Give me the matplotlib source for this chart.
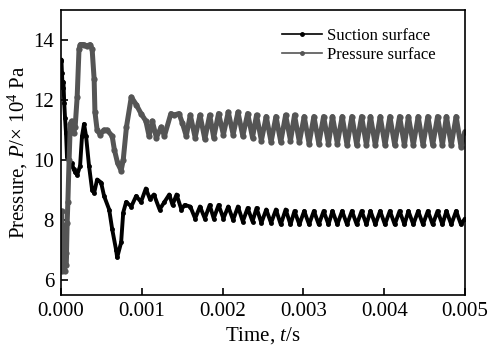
import matplotlib
matplotlib.use("Agg")
import matplotlib.pyplot as plt
from matplotlib.lines import Line2D
import numpy as np

plt.rcParams['font.family'] = ['Liberation Serif', 'DejaVu Serif']
plt.rcParams['mathtext.fontset'] = 'custom'
plt.rcParams['mathtext.rm'] = 'Liberation Serif'
plt.rcParams['mathtext.it'] = 'Liberation Serif:italic'

# start-up part of each curve, time in ms, pressure in 1e4 Pa
t_suction_start = [0.00, 0.005, 0.012, 0.02, 0.03, 0.04, 0.05, 0.062, 0.074, 0.09,
                   0.11, 0.136, 0.155, 0.174, 0.20, 0.236, 0.26, 0.285, 0.31, 0.347,
                   0.385, 0.41, 0.447, 0.496, 0.533, 0.596, 0.633, 0.682, 0.695, 0.744,
                   0.77, 0.806, 0.87, 0.93, 0.99, 1.05, 1.10, 1.15, 1.22, 1.28,
                   1.34, 1.38, 1.43, 1.49, 1.53]
p_suction_start = [13.30, 13.35, 12.9, 12.4, 12.6, 11.9, 11.4, 10.9, 10.1, 10.3,
                   9.8, 9.9, 9.7, 9.6, 9.5, 9.8, 10.8, 11.2, 10.8, 9.8,
                   9.0, 8.9, 9.35, 9.25, 8.8, 8.35, 7.7, 7.0, 6.75, 7.25,
                   8.25, 8.6, 8.45, 8.8, 8.6, 9.05, 8.7, 8.85, 8.35, 8.6,
                   8.85, 8.5, 8.85, 8.35, 8.5]

t_pressure_start = [0.00, 0.008, 0.015, 0.022, 0.03, 0.038, 0.045, 0.052, 0.06, 0.068,
                    0.076, 0.085, 0.10, 0.115, 0.13, 0.155, 0.175, 0.20, 0.223, 0.24,
                    0.28, 0.32, 0.36, 0.385, 0.41, 0.42, 0.447, 0.484, 0.53, 0.57,
                    0.633, 0.66, 0.70, 0.744, 0.77, 0.81, 0.87, 0.93, 0.99, 1.05,
                    1.09, 1.13, 1.18, 1.24, 1.28, 1.36, 1.40, 1.46, 1.50, 1.55]
p_pressure_start = [6.6, 8.3, 6.3, 7.6, 6.4, 7.2, 6.3, 7.8, 6.5, 6.9,
                    7.9, 8.6, 10.0, 11.2, 11.3, 10.9, 11.1, 12.1, 13.7, 13.85,
                    13.85, 13.8, 13.85, 13.7, 12.7, 11.6, 11.0, 10.85, 11.0, 11.0,
                    10.8, 10.35, 9.9, 9.65, 10.0, 11.1, 12.1, 11.85, 11.55, 11.3,
                    10.8, 11.3, 10.75, 11.1, 10.8, 11.55, 11.5, 11.55, 11.25, 10.8]

# periodic part: alternating crests and troughs
t_periodic = [1.60, 1.66, 1.72, 1.78, 1.84, 1.89, 1.95, 2.01, 2.07, 2.13,
              2.19, 2.25, 2.31, 2.37, 2.42, 2.48, 2.54, 2.60, 2.66, 2.72,
              2.78, 2.84, 2.89, 2.95, 3.01, 3.07, 3.13, 3.19, 3.25, 3.31,
              3.36, 3.42, 3.48, 3.54, 3.60, 3.66, 3.72, 3.78, 3.83, 3.89,
              3.95, 4.01, 4.07, 4.13, 4.19, 4.25, 4.30, 4.36, 4.42, 4.48,
              4.54, 4.60, 4.66, 4.72, 4.77, 4.83, 4.89, 4.95, 5.00]
p_suction_periodic = [8.45, 8.05, 8.45, 8.05, 8.50, 8.05, 8.50, 8.05, 8.45, 8.00,
                      8.45, 7.95, 8.40, 7.95, 8.40, 7.90, 8.35, 7.90, 8.35, 7.85,
                      8.35, 7.85, 8.30, 7.85, 8.30, 7.85, 8.30, 7.85, 8.30, 7.85,
                      8.30, 7.85, 8.30, 7.85, 8.30, 7.85, 8.30, 7.85, 8.30, 7.85,
                      8.30, 7.85, 8.30, 7.85, 8.30, 7.85, 8.30, 7.85, 8.30, 7.85,
                      8.30, 7.85, 8.30, 7.85, 8.30, 7.85, 8.30, 7.85, 8.05]
p_pressure_periodic = [11.50, 10.75, 11.50, 10.70, 11.50, 10.75, 11.55, 10.85, 11.60, 10.85,
                       11.60, 10.80, 11.55, 10.75, 11.50, 10.65, 11.45, 10.60, 11.45, 10.60,
                       11.50, 10.65, 11.50, 10.60, 11.45, 10.55, 11.45, 10.55, 11.45, 10.55,
                       11.45, 10.55, 11.45, 10.50, 11.45, 10.50, 11.45, 10.50, 11.45, 10.50,
                       11.45, 10.50, 11.45, 10.50, 11.45, 10.50, 11.45, 10.50, 11.45, 10.50,
                       11.45, 10.50, 11.45, 10.50, 11.45, 10.50, 11.45, 10.45, 10.95]

t_suc = np.array(t_suction_start + t_periodic) / 1000
p_suc = np.array(p_suction_start + p_suction_periodic)
t_pre = np.array(t_pressure_start + t_periodic) / 1000
p_pre = np.array(p_pressure_start + p_pressure_periodic)

black = '#000000'
grey = '#555555'

fig = plt.figure(figsize=(4.9, 3.58), dpi=100)
ax = fig.add_axes([0.1245, 0.176, 0.8245, 0.796])

ax.plot(t_suc, p_suc, color=black, lw=2.8, marker='o', ms=3.5, mew=0,
        solid_joinstyle='round', solid_capstyle='round')
ax.plot(t_pre, p_pre, color=grey, lw=3.6, marker='o', ms=4.5, mew=0,
        solid_joinstyle='round', solid_capstyle='round')

ax.set_xlim(0, 0.005)
ax.set_ylim(5.5, 15.0)
ax.set_xticks([0.000, 0.001, 0.002, 0.003, 0.004, 0.005])
ax.set_xticklabels(['0.000', '0.001', '0.002', '0.003', '0.004', '0.005'])
ax.set_yticks([6, 8, 10, 12, 14])
ax.tick_params(direction='in', length=5, width=1.2, labelsize=15, pad=5)
for s in ax.spines.values():
    s.set_linewidth(1.2)

ax.set_xlabel('Time, $\\it{t}$/s', fontsize=15, labelpad=3)
ax.set_ylabel('Pressure, $\\it{P}$/\u00d7 10$^{4}$ Pa', fontsize=15, labelpad=2)

handles = [Line2D([], [], color=black, lw=1.2, marker='o', ms=2.5),
           Line2D([], [], color=grey, lw=1.2, marker='o', ms=2.5)]
ax.legend(handles, ['Suction surface', 'Pressure surface'], loc='upper right',
          bbox_to_anchor=(0.965, 0.99), frameon=False, fontsize=12,
          handlelength=2.4, handletextpad=0.3, labelspacing=0.2)

fig.savefig('out.png', dpi=100)
